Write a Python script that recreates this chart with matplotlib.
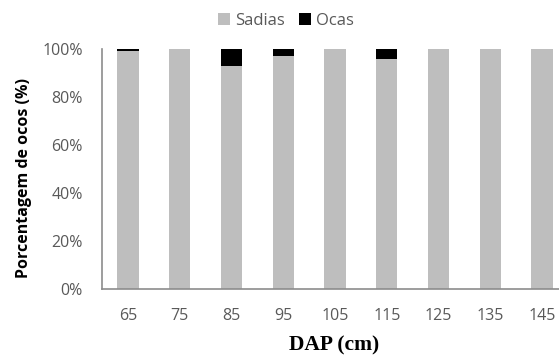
import matplotlib
matplotlib.use("Agg")
import matplotlib.pyplot as plt
import numpy as np
from matplotlib.ticker import PercentFormatter

categories = ["65", "75", "85", "95", "105", "115", "125", "135", "145"]
ocas = [1, 0, 7, 3, 0, 4, 0, 0, 0]
sadias = [100 - o for o in ocas]

fig = plt.figure(figsize=(5.59, 3.58), dpi=100)
ax = fig.add_axes([102/559, 1 - 289/358, 466/559, 240/358])

x = np.arange(len(categories))
w = 0.41
ax.bar(x, sadias, w, color="#BEBEBE", label="Sadias")
ax.bar(x, ocas, w, bottom=sadias, color="#000000", label="Ocas")

ax.set_xlim(-0.5, len(categories) - 0.5)
ax.set_ylim(0, 100)
ax.set_yticks(np.arange(0, 101, 20))
ax.yaxis.set_major_formatter(PercentFormatter(100, decimals=0))
ax.set_xticks(x)
ax.set_xticklabels(categories)

for s in ["top", "right"]:
    ax.spines[s].set_visible(False)
for s in ["left", "bottom"]:
    ax.spines[s].set_color("#8C8C8C")
    ax.spines[s].set_linewidth(1.2)

ax.tick_params(axis="both", length=0, labelsize=11.5, labelcolor="#595959")
ax.tick_params(axis="y", pad=14)
ax.tick_params(axis="x", pad=14)
for lab in ax.get_xticklabels() + ax.get_yticklabels():
    lab.set_family("Open Sans")

ax.set_ylabel("Porcentagem de ocos (%)", fontsize=11.5, fontweight="bold",
              family="Open Sans", color="black")
ax.yaxis.set_label_coords((24 - 102) / 466, (289 - 178) / 240)
ax.yaxis.label.set_va("center")
ax.set_xlabel("DAP (cm)", fontsize=15.5, fontweight="bold",
              family="Liberation Serif", color="black")
ax.xaxis.set_label_coords((334 - 102) / 466, (289 - 345) / 240)
ax.xaxis.label.set_va("center")

leg = fig.legend(loc="center", bbox_to_anchor=(286/559, 1 - 21/358), ncol=2,
                 frameon=False, handlelength=0.7, handleheight=0.7,
                 handletextpad=0.3, columnspacing=0.9, borderpad=0,
                 prop={"family": "Open Sans", "size": 12})
for t in leg.get_texts():
    t.set_color("#595959")

fig.savefig("out.png", dpi=100)
